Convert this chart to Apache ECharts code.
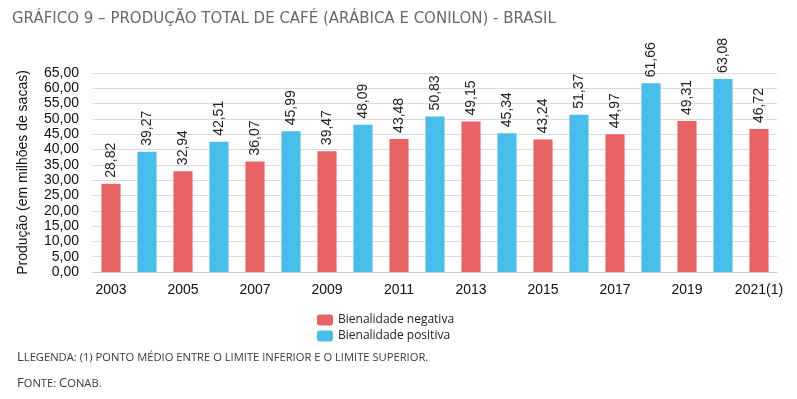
<!DOCTYPE html>
<html lang="pt-BR">
<head>
<meta charset="UTF-8">
<title>Produção total de café</title>
<script src="https://cdn.jsdelivr.net/npm/echarts@6/dist/echarts.min.js"></script>
<style>
  html, body { margin: 0; padding: 0; background: #fff; }
  #chart { width: 797px; height: 399px; }
</style>
</head>
<body>
<div id="chart"></div>
<script>
// dados
var anos = ['2003', '2004', '2005', '2006', '2007', '2008', '2009', '2010', '2011', '2012',
            '2013', '2014', '2015', '2016', '2017', '2018', '2019', '2020', '2021(1)'];
var producao = [28.82, 39.27, 32.94, 42.51, 36.07, 45.99, 39.47, 48.09, 43.48, 50.83,
                49.15, 45.34, 43.24, 51.37, 44.97, 61.66, 49.31, 63.08, 46.72];
// 'n' = bienalidade negativa, 'p' = bienalidade positiva
var bienalidade = ['n', 'p', 'n', 'p', 'n', 'p', 'n', 'p', 'n', 'p',
                   'n', 'p', 'n', 'p', 'n', 'p', 'n', 'p', 'n'];
var nomes = { n: 'Bienalidade negativa', p: 'Bienalidade positiva' };
var cores = { n: '#E96264', p: '#48BFEB' };

function fmt(v) {
    return v.toFixed(2).replace('.', ',');
}

function serie(tipo, first) {
    return {
        name: nomes[tipo],
        type: 'bar',
        barWidth: '53%',
        barGap: first ? '0%' : '-100%',
        itemStyle: { color: cores[tipo] },
        label: {
            show: true,
            position: 'top',
            rotate: 90,
            align: 'left',
            verticalAlign: 'middle',
            distance: 6,
            fontFamily: 'Liberation Sans, Arial, sans-serif',
            fontSize: 14,
            color: '#222',
            formatter: function (p) { return fmt(p.value); }
        },
        data: producao.map(function (v, i) {
            return bienalidade[i] === tipo ? v : '-';
        })
    };
}

// versaletes simuladas: maiúsculas grandes (a) e pequenas (b)
var versalete = {
    a: { fontFamily: 'Open Sans, sans-serif', fontSize: 13, fontWeight: 'normal', color: '#3a3a3a' },
    b: { fontFamily: 'Open Sans, sans-serif', fontSize: 11.2, fontWeight: 'normal', color: '#3a3a3a' }
};

var chart = echarts.init(document.getElementById('chart'));
chart.setOption({
    animation: false,
    grid: { left: 93, right: 20, top: 73, height: 199 },
    title: [
        {
            text: 'GRÁFICO 9 – PRODUÇÃO TOTAL DE CAFÉ (ARÁBICA E CONILON) - BRASIL',
            left: 7, top: 7,
            textStyle: { fontFamily: 'DejaVu Sans, sans-serif', fontSize: 15, fontWeight: 'normal', color: '#666a70' }
        },
        {
            text: '{a|L}{b|LEGENDA: (1) PONTO MÉDIO ENTRE O LIMITE INFERIOR E O LIMITE SUPERIOR.}',
            left: 12, top: 346,
            textStyle: { rich: versalete }
        },
        {
            text: '{a|F}{b|ONTE: }{a|C}{b|ONAB.}',
            left: 12, top: 372,
            textStyle: { rich: versalete }
        }
    ],
    legend: {
        orient: 'vertical',
        left: 312, top: 309,
        itemWidth: 16, itemHeight: 11, itemGap: 4,
        textStyle: { fontFamily: 'Open Sans, sans-serif', fontSize: 12, color: '#222' },
        data: [nomes.n, nomes.p]
    },
    xAxis: {
        type: 'category',
        data: anos,
        axisLine: { lineStyle: { color: '#c8c8c8' } },
        axisTick: { show: false },
        axisLabel: {
            interval: 1,
            margin: 11,
            fontFamily: 'Liberation Sans, Arial, sans-serif',
            fontSize: 14,
            color: '#111'
        }
    },
    yAxis: {
        type: 'value',
        min: 0, max: 65, interval: 5,
        name: 'Produção (em milhões de sacas)',
        nameLocation: 'middle',
        nameGap: 63,
        nameTextStyle: { fontFamily: 'Liberation Sans, Arial, sans-serif', fontSize: 14, color: '#111' },
        axisLine: { show: false },
        axisTick: { show: false },
        splitLine: { lineStyle: { color: '#dcdcdc' } },
        axisLabel: {
            margin: 14,
            fontFamily: 'Liberation Sans, Arial, sans-serif',
            fontSize: 14,
            color: '#111',
            formatter: function (v) { return fmt(v); }
        }
    },
    series: [serie('n', true), serie('p', false)]
});
</script>
</body>
</html>
